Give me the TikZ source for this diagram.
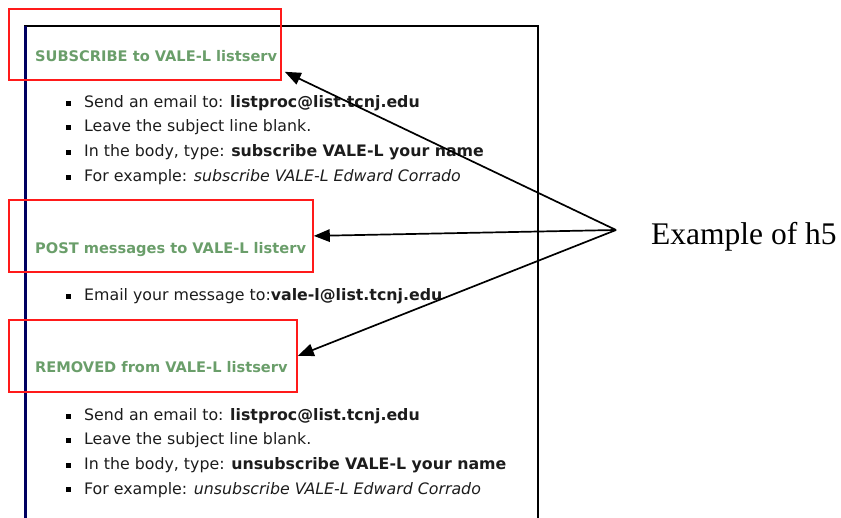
\documentclass[tikz,border=0pt]{standalone}
\usepackage{fontspec}
\setmainfont{DejaVu Sans}
\newfontfamily\timesfont{Liberation Serif}
\usetikzlibrary{arrows.meta,positioning}
\definecolor{hgreen}{HTML}{6A9E6A}
\definecolor{boxred}{HTML}{FF1A1A}
\definecolor{navyedge}{HTML}{000060}
\definecolor{bodyink}{HTML}{1C1C1C}

\begin{document}
\begin{tikzpicture}[x=1pt,y=-1pt,
    hfive/.style={anchor=base west,inner sep=0pt,text=hgreen,font=\fontsize{14.6}{16}\selectfont\bfseries},
    redbox/.style={draw=boxred,line width=1.8pt,anchor=north west,inner sep=0pt,minimum height=72pt},
    item/.style={anchor=base west,inner sep=0pt,text=bodyink,font=\fontsize{15.8}{18}\selectfont},
    pointer/.style={line width=1.7pt,-{Triangle[length=16pt,width=12.5pt]}}]
    \useasboundingbox (0,0) rectangle (841,518);
    % page frame
    \draw[line width=2pt] (25,518)--(25,26)--(538,26)--(538,518);
    \draw[navyedge,line width=3pt] (25,26)--(25,518);
    % h5 headings and their boxes
    \node[redbox,minimum width=272pt,minimum height=71pt] (box1) at (8,8) {};
    \node[redbox,minimum width=304pt] (box2) at (8,199) {};
    \node[redbox,minimum width=288pt] (box3) at (8,319) {};
    \node[hfive] (sub) at (35,62) {SUBSCRIBE to VALE-L listserv};
    \node[hfive] (post) at (35,254) {POST messages to VALE-L listerv};
    \node[hfive] (rem) at (35,373) {REMOVED from VALE-L listserv};
    % list items
    \foreach \y/\txt in {108/{Send an email to: \textbf{listproc@list.tcnj.edu}},
        132/{Leave the subject line blank.},
        157/{In the body, type: \textbf{subscribe VALE-L your name}},
        182/{For example: \textit{subscribe VALE-L Edward Corrado}},
        301/{Email your message to:\textbf{vale-l@list.tcnj.edu}},
        421/{Send an email to: \textbf{listproc@list.tcnj.edu}},
        445/{Leave the subject line blank.},
        470/{In the body, type: \textbf{unsubscribe VALE-L your name}},
        494/{For example: \textit{unsubscribe VALE-L Edward Corrado}}}{
      \fill[black] (65.5,\y-1.8) rectangle +(5.5,-5.5);
      \node[item] (it\y) at (84,\y) {\txt};
    }
    % callout
    \node[anchor=base west,inner sep=0pt,font=\timesfont\fontsize{31.5}{35}\selectfont] (note) at (651,245) {Example of h5};
    \coordinate (src) at (616,230);
    \draw[pointer] (src)--([shift={(3,-9)}]box1.south east);
    \draw[pointer] (src)--(box2.east);
    \draw[pointer] (src)--(box3.east);
\end{tikzpicture}
\end{document}
